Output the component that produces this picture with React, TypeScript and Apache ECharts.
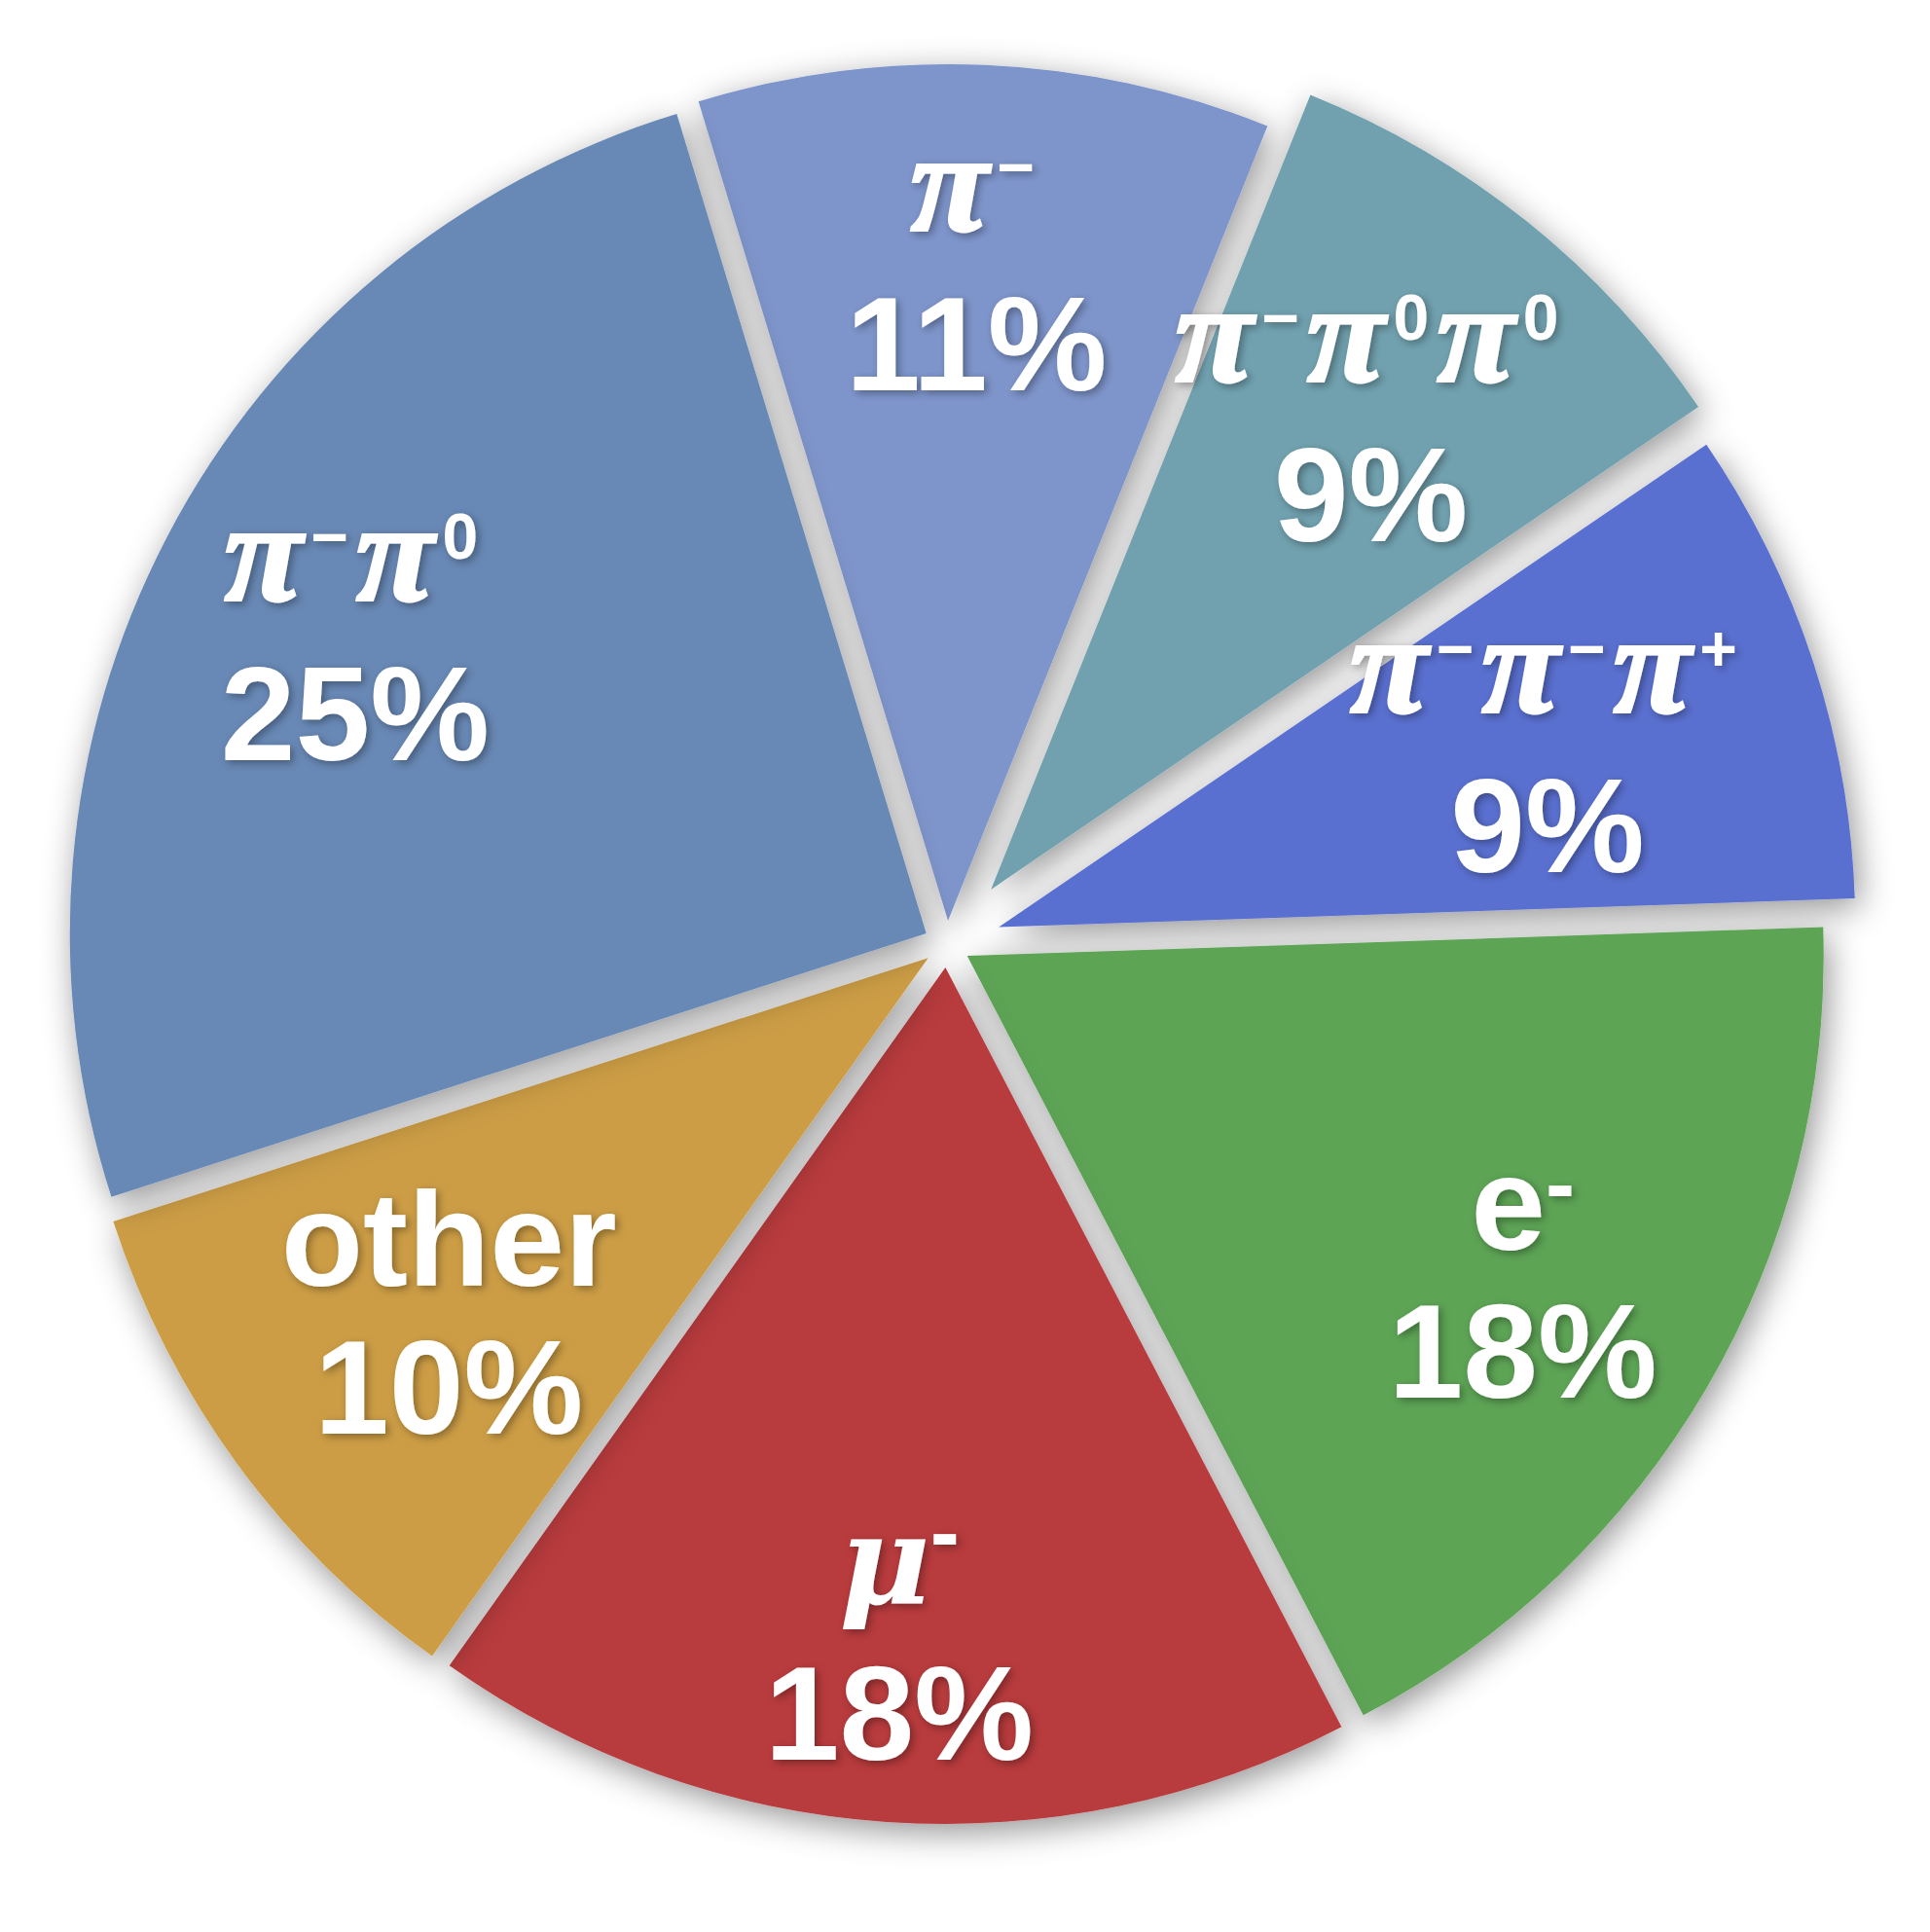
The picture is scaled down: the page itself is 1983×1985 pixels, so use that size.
import React, { useEffect, useRef } from "react";
import * as echarts from "echarts";

// ---- data ----
const categories = ["π⁻", "π⁻π⁰π⁰", "π⁻π⁻π⁺", "e⁻", "μ⁻", "other", "π⁻π⁰"];
const values = [10.8, 9.4, 9.0, 17.9, 17.5, 10.2, 25.3];
// rich-text rendering of each category name
const nameMarkup = [
  "{pi|π}{sup|−}",
  "{pi|π}{sup|−}{pi|π}{sup|0}{pi|π}{sup|0}",
  "{pi|π}{sup|−}{pi|π}{sup|−}{pi|π}{sup|+}",
  "{lat|e}{hye|-}",
  "{mu|μ}{hym|-}",
  "{lat|other}",
  "{pi|π}{sup|−}{pi|π}{sup|0}",
];

// ---- styles ----
const colors = ["#7E95CB", "#71A1AF", "#5A70D0", "#5DA455", "#B83A3D", "#CC9D44", "#6788B5"];
const explode = [24, 72, 56, 24, 24, 24, 24];
const labelDist = [674, 623, 593, 664, 695, 618, 662];
const labelTurn = [0, 0, 0, 0.45, 0, -0.9, 0]; // degrees, clockwise
const START_ANGLE = 106.94;
const CENTER = [973, 970];
const RADIUS = 880;

const SANS = "'Liberation Sans', Arial, sans-serif";
const SERIF = "'Liberation Serif', 'Times New Roman', serif";
const SERIF2 = "'DejaVu Serif', serif";
const txtShadow = {
  textShadowColor: "rgba(0,0,0,0.35)",
  textShadowBlur: 8,
  textShadowOffsetX: 3,
  textShadowOffsetY: 3,
};

const rich: any = {
  pi: {
    fontFamily: SERIF, fontStyle: "italic", fontWeight: "bold", fontSize: 146, lineHeight: 160,
    color: "#fff", textBorderColor: "#fff", textBorderWidth: 3, ...txtShadow,
  },
  mu: { fontFamily: SERIF2, fontStyle: "italic", fontWeight: "bold", fontSize: 128, lineHeight: 146, color: "#fff", ...txtShadow },
  sup: { fontFamily: SANS, fontWeight: "bold", fontSize: 66, verticalAlign: "top", color: "#fff", padding: [30, 8, 0, 9], ...txtShadow },
  lat: { fontFamily: SANS, fontWeight: "bold", fontSize: 138, lineHeight: 134, color: "#fff", ...txtShadow },
  hye: { fontFamily: SANS, fontWeight: "bold", fontSize: 90, verticalAlign: "top", color: "#fff", padding: [2, 0, 0, 0], ...txtShadow },
  hym: { fontFamily: SANS, fontWeight: "bold", fontSize: 90, verticalAlign: "top", color: "#fff", padding: [0, 0, 0, 0], ...txtShadow },
  pct: { fontFamily: SANS, fontWeight: "bold", fontSize: 138, lineHeight: 170, color: "#fff", ...txtShadow },
};

function buildOption() {
  const total = values.reduce((a, b) => a + b, 0);
  let acc = 0;
  const mids = values.map((v) => {
    const m = START_ANGLE - ((acc + v / 2) / total) * 360;
    acc += v;
    return m;
  });
  const defaultDist = RADIUS / 2 + 3;

  const series = categories.map((_, si) => ({
    type: "pie",
    silent: true,
    center: CENTER,
    radius: [0, RADIUS],
    startAngle: START_ANGLE,
    clockwise: true,
    avoidLabelOverlap: false,
    selectedMode: "multiple",
    selectedOffset: explode[si],
    z: 2,
    emphasis: { disabled: true },
    labelLine: { show: false },
    labelLayout: (p: any) => {
      const i = p.dataIndex;
      const a0 = (mids[i] * Math.PI) / 180;
      const a1 = ((mids[i] - labelTurn[i]) * Math.PI) / 180;
      return {
        dx: Math.cos(a1) * labelDist[i] - Math.cos(a0) * defaultDist,
        dy: -(Math.sin(a1) * labelDist[i] - Math.sin(a0) * defaultDist),
      };
    },
    data: values.map((v, i) => {
      const visible = i === si;
      return {
        name: categories[i],
        value: v,
        selected: visible,
        itemStyle: visible
          ? {
              color: colors[i],
              borderWidth: 0,
              shadowBlur: 34,
              shadowColor: "rgba(0,0,0,0.42)",
              shadowOffsetX: 5,
              shadowOffsetY: 9,
            }
          : { color: "rgba(0,0,0,0)", borderWidth: 0, shadowBlur: 0, shadowColor: "rgba(0,0,0,0)" },
        select: visible
          ? { itemStyle: { color: colors[i], borderWidth: 0 } }
          : { itemStyle: { color: "rgba(0,0,0,0)", borderWidth: 0 } },
        label: visible
          ? {
              show: true,
              position: "inside",
              formatter: () => nameMarkup[i] + "\n{pct|" + Math.round(v) + "%}",
              rich,
            }
          : { show: false },
      };
    }),
  }));

  return {
    animation: false,
    backgroundColor: "#ffffff",
    series,
  };
}

export default function App() {
  const ref = useRef<HTMLDivElement>(null);
  useEffect(() => {
    if (!ref.current) return;
    const chart = echarts.init(ref.current, undefined, { renderer: "svg" });
    chart.setOption(buildOption() as any);
    return () => chart.dispose();
  }, []);
  return (
    <div
      ref={ref}
      style={{ position: "fixed", left: 0, top: 0, width: 1983, height: 1985, background: "#fff" }}
    />
  );
}
